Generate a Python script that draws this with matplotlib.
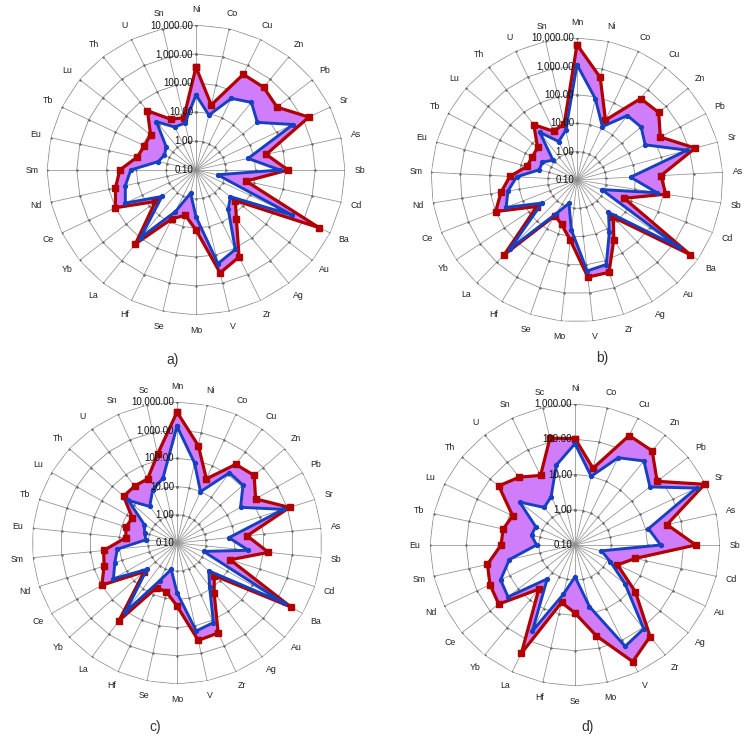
import numpy as np
import matplotlib
matplotlib.use('Agg')
import matplotlib.pyplot as plt
from matplotlib.path import Path
from matplotlib.patches import PathPatch
import matplotlib.transforms as mtransforms
from matplotlib.ticker import NullLocator

plt.rcParams['font.family'] = ['Liberation Sans', 'DejaVu Sans']

# ---------------- data ----------------
cats_a = ['Ni', 'Co', 'Cu', 'Zn', 'Pb', 'Sr', 'As', 'Sb', 'Cd', 'Ba', 'Au', 'Ag', 'Zr', 'V',
          'Mo', 'Se', 'Hf', 'La', 'Yb', 'Ce', 'Nd', 'Sm', 'Eu', 'Tb', 'Lu', 'Th', 'U', 'Sn']
max_a = [350, 20, 460, 440, 300, 1600, 26, 123, 5.3, 3900, 4.9, 15, 213, 435,
         11.7, 4, 7.4, 182, 5.5, 100, 59, 36, 10.5, 8.3, 8.9, 41, 8.7, 7.1]
min_a = [39, 8.7, 55, 96, 43, 410, 6.2, 65, 0.55, 380, 3, 5.4, 110, 205,
         4.1, 0.66, 3.9, 96, 2.9, 43, 27, 15.5, 2, 1.5, 1.9, 13.5, 4.4, 4.6]

cats_b = ['Mn', 'Ni', 'Co', 'Cu', 'Zn', 'Pb', 'Sr', 'As', 'Sb', 'Cd', 'Ba', 'Au', 'Ag', 'Zr',
          'V', 'Mo', 'Se', 'Hf', 'La', 'Yb', 'Ce', 'Nd', 'Sm', 'Eu', 'Tb', 'Lu', 'Th', 'U', 'Sn']
max_b = [5800, 500, 21, 400, 470, 170, 1580, 76, 120, 5.5, 4900, 6.4, 28, 270,
         275, 13.5, 4.5, 2.9, 420, 4.6, 100, 43, 20, 6.1, 5.4, 5.9, 28, 7.7, 10.7]
min_b = [1150, 85, 11.7, 71, 76, 44, 830, 6.9, 60, 0.81, 1600, 3.7, 14, 138,
         166, 5.9, 0.74, 2.4, 215, 2.8, 41, 25, 11.7, 2.2, 2.2, 1.2, 13, 3.1, 6.2]

cats_c = ['Mn', 'Ni', 'Co', 'Cu', 'Zn', 'Pb', 'Sr', 'As', 'Sb', 'Cd', 'Ba', 'Au', 'Ag', 'Zr',
          'V', 'Mo', 'Se', 'Hf', 'La', 'Yb', 'Ce', 'Nd', 'Sm', 'Eu', 'Tb', 'Lu', 'Th', 'U',
          'Sn', 'Sc']
max_c = [4400, 340, 31, 280, 380, 135, 1200, 27, 148, 8.5, 3400, 5.4, 15, 310,
         340, 17, 5.9, 5.4, 257, 3.3, 98, 44, 35, 6, 7, 6, 30, 31, 31, 166]
min_c = [1380, 80, 9.8, 120, 115, 34, 720, 6.3, 30, 0.92, 1740, 3, 8.1, 123,
         155, 5.8, 0.9, 2.9, 107, 2.5, 34, 18, 11.7, 1.2, 1.5, 2, 18, 4, 11.5, 22]

cats_d = ['Ni', 'Co', 'Cu', 'Zn', 'Pb', 'Sr', 'As', 'Sb', 'Cd', 'Au', 'Ag', 'Zr', 'V', 'Mo',
          'Se', 'Hf', 'La', 'Yb', 'Ce', 'Nd', 'Sm', 'Eu', 'Tb', 'Lu', 'Th', 'U', 'Sn', 'Sc']
max_d = [105, 17, 280, 260, 79, 930, 40, 215, 5.1, 2.0, 13.5, 210, 470, 44,
         8.5, 4.7, 257, 4, 49, 40, 30, 11, 10.8, 8.1, 49, 29, 15.5, 128]
min_d = [75, 10, 56, 112, 44, 525, 12, 23, 0.56, 1.2, 5.8, 110, 155, 6.2,
         0.8, 2.7, 51, 1.7, 23, 19, 7.2, 1.15, 1.7, 1.6, 9, 2.3, 3.3, 21]

ticks_5 = [0.1, 1, 10, 100, 1000, 10000]
ticks_4 = [0.1, 1, 10, 100, 1000]
captions = ['a)', 'b)', 'c)', 'd)']

# ---------------- layout ----------------
W, H = 751, 738
fig = plt.figure(figsize=(W / 100, H / 100), dpi=100)
fig.patch.set_facecolor('white')

RED = '#B00000'
BLUE = '#1740C0'
VIOLET = '#CF7DFB'
GRID = '#8F8F8F'

panels = [
    (cats_a, max_a, min_a, ticks_5, (196, 170, 149, 145)),
    (cats_b, max_b, min_b, ticks_5, (577, 180, 146, 142)),
    (cats_c, max_c, min_c, ticks_5, (177, 543, 145, 141)),
    (cats_d, max_d, min_d, ticks_4, (575, 545, 145, 141)),
]
cap_pos = [(173, 360), (602, 358), (155, 727), (588, 727)]


def tick_fmt(v):
    return '{:,.2f}'.format(v)


for (cats, vmax, vmin, ticks, (cx, cy, rh, rv)), cap, (tx, ty) in zip(panels, captions, cap_pos):
    ax = fig.add_axes([(cx - rh) / W, (H - cy - rv) / H, 2 * rh / W, 2 * rv / H],
                      projection='polar')
    ax.set_aspect('auto')
    ax.set_theta_zero_location('N')
    ax.set_theta_direction(-1)
    ax.set_rscale('log')
    ax.set_rlim(ticks[0], ticks[-1])
    ax.yaxis.set_minor_locator(NullLocator())
    ax.set_yticks([])
    ax.spines['polar'].set_visible(False)
    ax.set_axisbelow(True)
    ax.set_facecolor('none')

    n = len(cats)
    theta = np.arange(n) * 2 * np.pi / n
    ax.set_thetagrids(np.degrees(theta), cats, fontsize=6.3, color='#222222')
    ax.tick_params(axis='x', pad=0.5)
    ax.xaxis.grid(True, color=GRID, lw=0.55)
    ax.yaxis.grid(False)

    th_c = np.append(theta, theta[0])
    # polygonal gridlines (Excel radar style)
    for t in ticks[1:]:
        ax.plot(th_c, np.full(n + 1, t), color=GRID, lw=0.6, zorder=0.6,
                marker='.', ms=1.5, mec='#666666', mfc='#666666')

    mx = np.append(vmax, vmax[0])
    mn = np.append(vmin, vmin[0])

    # violet band between the max and min polygons
    verts = list(zip(th_c, mx)) + list(zip(th_c[::-1], mn[::-1]))
    codes = ([Path.MOVETO] + [Path.LINETO] * (n - 1) + [Path.CLOSEPOLY] +
             [Path.MOVETO] + [Path.LINETO] * (n - 1) + [Path.CLOSEPOLY])
    band = PathPatch(Path(verts, codes), facecolor=VIOLET, edgecolor='none',
                     transform=ax.transData, zorder=1)
    ax.add_patch(band)

    ax.plot(th_c, mx, color=RED, lw=2.3, marker='s', ms=4.8, mfc=RED, mec=RED,
            zorder=3, clip_on=False)
    ax.plot(th_c, mn, color=BLUE, lw=2.1, marker='o', ms=2.8, mfc=BLUE, mec=BLUE,
            zorder=4, clip_on=False)

    # value-axis labels along the vertical axis
    off = mtransforms.offset_copy(ax.transData, fig=fig, x=-2, y=0, units='points')
    for t in ticks:
        ax.text(0, t, tick_fmt(t), transform=off, ha='right', va='center',
                fontsize=7, color='#111111', zorder=5)

    fig.text(tx / W, 1 - ty / H, cap, ha='center', va='center', fontsize=10,
             color='#333333')

fig.savefig('out.png', dpi=100, facecolor='white')
